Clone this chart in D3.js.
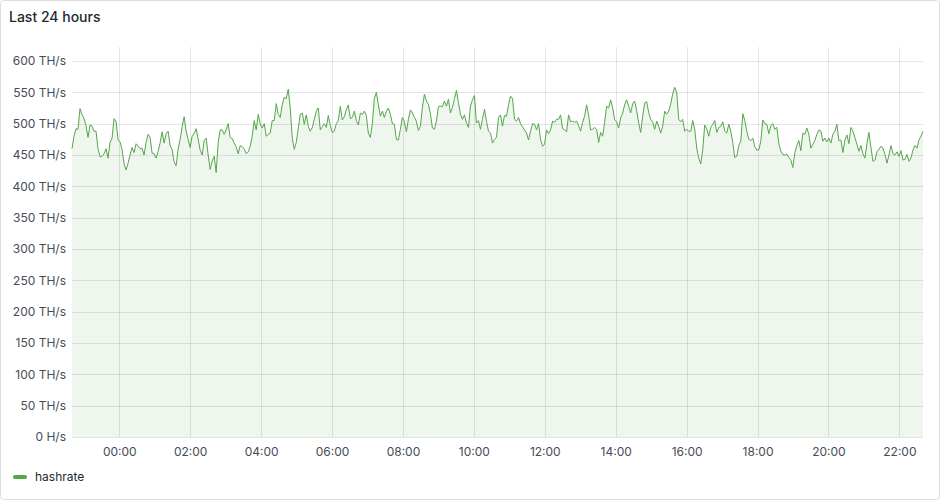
<!DOCTYPE html>
<html>
<head>
<meta charset="utf-8">
<script src="https://cdn.jsdelivr.net/npm/d3@7"></script>
<style>
  html, body { margin: 0; padding: 0; background: #ffffff; }
  svg { display: block; font-family: Inter, "Noto Sans", sans-serif; }
</style>
</head>
<body>
<svg id="chart" width="940" height="500"></svg>
<script>
// ---- data ----
const title = "Last 24 hours";
const seriesName = "hashrate";
const startTime = "2024-01-01T22:40:00";
const endTime = "2024-01-02T22:40:00";
const yTickValues = [0, 50, 100, 150, 200, 250, 300, 350, 400, 450, 500, 550, 600];
const yTickLabels = ["0 H/s", "50 TH/s", "100 TH/s", "150 TH/s", "200 TH/s", "250 TH/s", "300 TH/s",
  "350 TH/s", "400 TH/s", "450 TH/s", "500 TH/s", "550 TH/s", "600 TH/s"];
// hashrate in TH/s, evenly spaced between startTime and endTime
const hashrate = [
  460,480,492,491,524,515,508,497,478,498,496,488,488,460,447,448,452,460,445,470,477,508,504,474,471,459,436,426,437,450,
  462,454,468,464,460,461,450,470,483,478,453,452,445,456,469,487,469,484,488,465,459,439,433,460,475,
  495,511,488,475,462,480,484,492,475,458,450,473,477,450,427,440,448,422,470,490,490,483,490,500,478,476,469,463,452,465,
  463,460,452,455,464,480,505,490,515,500,493,500,480,483,485,505,505,532,515,510,530,542,
  540,555,525,477,459,470,493,515,517,499,514,496,488,494,507,520,525,490,495,500,494,513,497,486,488,500,505,528,506,511,
  522,530,508,510,520,505,498,517,515,520,513,485,478,500,540,550,530,512,520,510,520,525,
  515,500,499,475,474,491,510,503,487,507,522,517,510,504,489,496,526,547,536,531,516,493,491,504,527,528,527,536,528,539,
  517,526,540,553,534,515,507,514,501,494,528,538,545,501,505,491,507,523,504,488,485,469,475,
  478,510,514,496,513,512,530,544,540,507,504,510,500,495,490,485,474,488,500,499,490,500,475,464,467,490,484,490,504,502,
  507,507,514,492,490,487,514,503,504,502,504,497,488,502,512,530,514,490,491,494,491,470,
  486,480,502,528,525,538,526,507,503,493,509,517,530,538,528,517,532,536,521,501,486,512,533,535,518,507,503,491,504,496,
  485,496,520,515,520,531,548,558,550,507,503,507,488,491,488,488,505,491,461,445,436,459,498,
  492,480,494,499,505,486,494,496,503,488,485,499,488,470,446,448,465,472,516,505,488,475,473,477,463,458,458,472,506,500,
  499,484,497,500,491,494,468,456,451,450,451,446,442,430,454,465,473,457,485,483,493,483,
  461,467,473,483,490,488,472,477,471,477,469,483,488,499,473,474,454,474,482,468,494,488,478,467,456,465,452,445,468,486,
  462,440,442,455,459,464,461,451,437,450,465,452,450,455,448,457,442,443,451,440,445,458,465,461,474,480,488
];

// ---- layout ----
const W = 940, H = 500;
const plot = { left: 72, right: 923, top: 61, bottom: 437 };
const lineColor = "#56a64b";
const textColor = "#24292e";
const axisColor = "#464c54";
const gridColor = "rgba(36,41,46,0.12)";

const svg = d3.select("#chart");

// panel frame
svg.append("rect")
  .attr("x", 0.5).attr("y", 0.5)
  .attr("width", W - 1).attr("height", H - 1)
  .attr("rx", 3)
  .attr("fill", "#ffffff")
  .attr("stroke", "#dcdee2");

svg.append("text")
  .attr("x", 9).attr("y", 22)
  .attr("fill", textColor)
  .attr("font-size", 14)
  .attr("font-weight", 500)
  .text(title);

const t0 = new Date(startTime), t1 = new Date(endTime);
const x = d3.scaleTime().domain([t0, t1]).range([plot.left, plot.right]);
const y = d3.scaleLinear().domain([0, 600]).range([plot.bottom, plot.top]);
const idxToTime = d3.scaleLinear().domain([0, hashrate.length - 1]).range([t0.getTime(), t1.getTime()]);
const data = hashrate.map((v, i) => ({ t: new Date(idxToTime(i)), v }));

// grid
const xTicks = x.ticks(d3.timeHour.every(2));
svg.append("g").selectAll("line").data(yTickValues).join("line")
  .attr("x1", plot.left).attr("x2", plot.right)
  .attr("y1", d => Math.round(y(d)) + 0.5).attr("y2", d => Math.round(y(d)) + 0.5)
  .attr("stroke", gridColor);
svg.append("g").selectAll("line").data(xTicks).join("line")
  .attr("x1", d => Math.round(x(d)) + 0.5).attr("x2", d => Math.round(x(d)) + 0.5)
  .attr("y1", plot.top - 14).attr("y2", plot.bottom)
  .attr("stroke", gridColor);

// y axis
const yAxis = d3.axisLeft(y).tickValues(yTickValues)
  .tickFormat((d, i) => yTickLabels[i]).tickSize(0).tickPadding(6);
const gy = svg.append("g").attr("transform", `translate(${plot.left},0)`).call(yAxis);
gy.select(".domain").remove();
gy.selectAll("text").attr("fill", axisColor).attr("font-size", 12)
  .attr("font-family", 'Inter, "Noto Sans", sans-serif');

// x axis
const xAxis = d3.axisBottom(x).ticks(d3.timeHour.every(2))
  .tickFormat(d3.timeFormat("%H:%M")).tickSize(0).tickPadding(10);
const gx = svg.append("g").attr("transform", `translate(0,${plot.bottom})`).call(xAxis);
gx.select(".domain").remove();
gx.selectAll("text").attr("fill", axisColor).attr("font-size", 12)
  .attr("font-family", 'Inter, "Noto Sans", sans-serif');

// area + line
const area = d3.area().x(d => x(d.t)).y0(y(0)).y1(d => y(d.v));
const line = d3.line().x(d => x(d.t)).y(d => y(d.v));
svg.append("path").datum(data).attr("d", area)
  .attr("fill", lineColor).attr("fill-opacity", 0.1);
svg.append("path").datum(data).attr("d", line)
  .attr("fill", "none").attr("stroke", lineColor).attr("stroke-width", 1)
  .attr("stroke-linejoin", "round");

// legend
svg.append("line")
  .attr("x1", 15).attr("x2", 25).attr("y1", 477).attr("y2", 477)
  .attr("stroke", lineColor).attr("stroke-width", 4).attr("stroke-linecap", "round");
svg.append("text")
  .attr("x", 35).attr("y", 477).attr("dy", "0.35em")
  .attr("fill", textColor).attr("font-size", 12)
  .text(seriesName);
</script>
</body>
</html>
